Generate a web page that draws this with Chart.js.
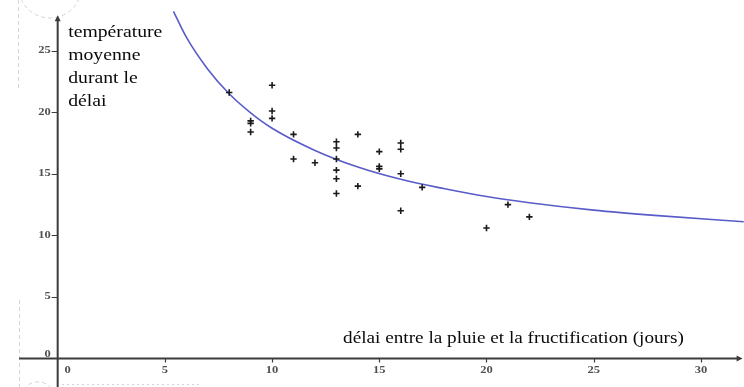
<!DOCTYPE html>
<html>
<head>
<meta charset="utf-8">
<script src="https://cdn.jsdelivr.net/npm/chart.js@4"></script>
<style>
  html, body { margin: 0; padding: 0; background: #ffffff; }
  #wrap { width: 744px; height: 387px; position: relative; }
</style>
</head>
<body>
<div id="wrap"><canvas id="c" width="744" height="387"></canvas></div>
<script>
// Observations: délai (jours) and température moyenne
const delaiJours = [8, 9, 9, 9, 10, 10, 10, 11, 11, 12, 13, 13, 13, 13, 13, 13, 14, 14, 15, 15, 15, 16, 16, 16, 16, 17, 20, 21, 22];
const temperatureMoyenne = [21.6, 19.3, 19.1, 18.4, 22.2, 20.1, 19.5, 18.2, 16.2, 15.9, 17.6, 17.1, 16.2, 15.3, 14.6, 13.4, 18.2, 14.0, 16.8, 15.6, 15.4, 17.5, 17.0, 15.0, 12.0, 13.9, 10.6, 12.5, 11.5];
// Fitted curve
const courbeX = [5.4, 6, 7, 8, 9, 10, 12, 14, 16, 18, 20, 22, 25, 28, 32];
const courbeY = [28.2, 26.1, 23.5, 21.5, 19.95, 18.7, 16.9, 15.55, 14.55, 13.8, 13.15, 12.65, 12.05, 11.6, 11.1];
// Tick labels
const xTicks = [0, 5, 10, 15, 20, 25, 30];
const yTicks = [0, 5, 10, 15, 20, 25];
const yTitleLines = ['température', 'moyenne', 'durant le', 'délai'];
const xTitle = 'délai entre la pluie et la fructification (jours)';

const points = delaiJours.map((x, i) => ({ x: x, y: temperatureMoyenne[i] }));
const curve = courbeX.map((x, i) => ({ x: x, y: courbeY[i] }));

const AXIS_COLOR = '#3c3c3c';
const TICK_COLOR = '#505050';

function stretchedText(ctx, text, x, y, sx) {
  ctx.save();
  ctx.translate(x, y);
  ctx.scale(sx, 1);
  ctx.fillText(text, 0, 0);
  ctx.restore();
}

function noPadding(scale) {
  scale.paddingTop = 0; scale.paddingBottom = 0;
  scale.paddingLeft = 0; scale.paddingRight = 0;
}

const axesPlugin = {
  id: 'axesPlugin',
  beforeDatasetsDraw(chart) {
    const ctx = chart.ctx;
    const xs = chart.scales.x, ys = chart.scales.y;
    const x0 = xs.getPixelForValue(0), y0 = ys.getPixelForValue(0);
    const xL = xs.getPixelForValue(-1.8), xR = xs.getPixelForValue(31.9);
    const yB = ys.getPixelForValue(-2.4), yT = ys.getPixelForValue(27.8);
    ctx.save();
    // faint dashed decorations of the original screenshot
    ctx.strokeStyle = '#d4d4d4';
    ctx.lineWidth = 1;
    ctx.setLineDash([4, 3]);
    ctx.beginPath();
    ctx.moveTo(18.5, 0); ctx.lineTo(18.5, 88);
    ctx.moveTo(19.5, 300); ctx.lineTo(19.5, 387);
    ctx.stroke();
    ctx.beginPath();
    ctx.ellipse(50, -12, 31, 30, 0, 0.35, Math.PI - 0.3);
    ctx.stroke();
    ctx.beginPath();
    ctx.ellipse(38, 392, 14, 10, 0, Math.PI + 0.2, 2 * Math.PI - 0.3);
    ctx.stroke();
    ctx.setLineDash([2, 3]);
    ctx.beginPath();
    ctx.moveTo(62, 384.5); ctx.lineTo(200, 384.5);
    ctx.stroke();
    ctx.setLineDash([]);

    ctx.strokeStyle = AXIS_COLOR;
    ctx.fillStyle = AXIS_COLOR;
    ctx.lineWidth = 2;
    ctx.beginPath();
    ctx.moveTo(xL, y0); ctx.lineTo(xR - 3, y0);
    ctx.moveTo(x0, yB); ctx.lineTo(x0, yT + 3);
    ctx.stroke();
    // arrowheads
    ctx.beginPath();
    ctx.moveTo(xR + 1, y0); ctx.lineTo(xR - 5, y0 - 3); ctx.lineTo(xR - 5, y0 + 3); ctx.closePath();
    ctx.fill();
    ctx.beginPath();
    ctx.moveTo(x0, yT - 1); ctx.lineTo(x0 - 3, yT + 5); ctx.lineTo(x0 + 3, yT + 5); ctx.closePath();
    ctx.fill();
    // tick marks
    ctx.lineWidth = 1.2;
    ctx.beginPath();
    xTicks.forEach(v => {
      if (v === 0) return;
      const px = Math.round(xs.getPixelForValue(v)) + 0.5;
      ctx.moveTo(px, y0); ctx.lineTo(px, y0 + 4);
    });
    yTicks.forEach(v => {
      if (v === 0) return;
      const py = Math.round(ys.getPixelForValue(v)) + 0.5;
      ctx.moveTo(x0 - 6, py); ctx.lineTo(x0, py);
    });
    ctx.stroke();
    // tick labels
    ctx.fillStyle = TICK_COLOR;
    ctx.font = 'bold 10px "Liberation Serif"';
    ctx.textBaseline = 'middle';
    ctx.textAlign = 'center';
    xTicks.forEach(v => {
      const px = xs.getPixelForValue(v) + (v === 0 ? 10 : 0);
      stretchedText(ctx, String(v), px, y0 + 11.5, 1.25);
    });
    ctx.textAlign = 'right';
    yTicks.forEach(v => {
      const py = ys.getPixelForValue(v) - (v === 0 ? 4 : 0);
      stretchedText(ctx, String(v), x0 - 7, py, 1.25);
    });
    // titles
    ctx.fillStyle = '#0a0a0a';
    ctx.font = '17px "Liberation Serif"';
    ctx.textAlign = 'left';
    ctx.textBaseline = 'middle';
    const tx = x0 + 10.5;
    yTitleLines.forEach((t, i) => stretchedText(ctx, t, tx, ys.getPixelForValue(26.44) + i * 22.7, 1.16));
    stretchedText(ctx, xTitle, xs.getPixelForValue(13.31), ys.getPixelForValue(1.58), 1.13);
    ctx.restore();
  }
};

new Chart(document.getElementById('c'), {
  type: 'scatter',
  data: {
    datasets: [
      {
        type: 'line',
        data: curve,
        borderColor: 'rgb(88, 92, 200)',
        borderWidth: 1.6,
        pointRadius: 0,
        fill: false,
        cubicInterpolationMode: 'monotone',
        order: 2
      },
      {
        data: points,
        pointStyle: 'cross',
        pointRadius: 3.2,
        borderColor: '#1a1a1a',
        backgroundColor: '#1a1a1a',
        borderWidth: 1.6,
        order: 1
      }
    ]
  },
  plugins: [axesPlugin],
  options: {
    responsive: false,
    animation: false,
    layout: { padding: 0, autoPadding: false },
    plugins: { legend: { display: false }, tooltip: { enabled: false } },
    scales: {
      x: {
        type: 'linear',
        position: { y: 0 },
        min: -2.69,
        max: 32.01,
        border: { display: false },
        grid: { display: false },
        ticks: { display: false },
        afterFit: noPadding
      },
      y: {
        type: 'linear',
        position: { x: 0 },
        min: -2.32,
        max: 29.12,
        border: { display: false },
        grid: { display: false },
        ticks: { display: false },
        afterFit: noPadding
      }
    }
  }
});
</script>
</body>
</html>
